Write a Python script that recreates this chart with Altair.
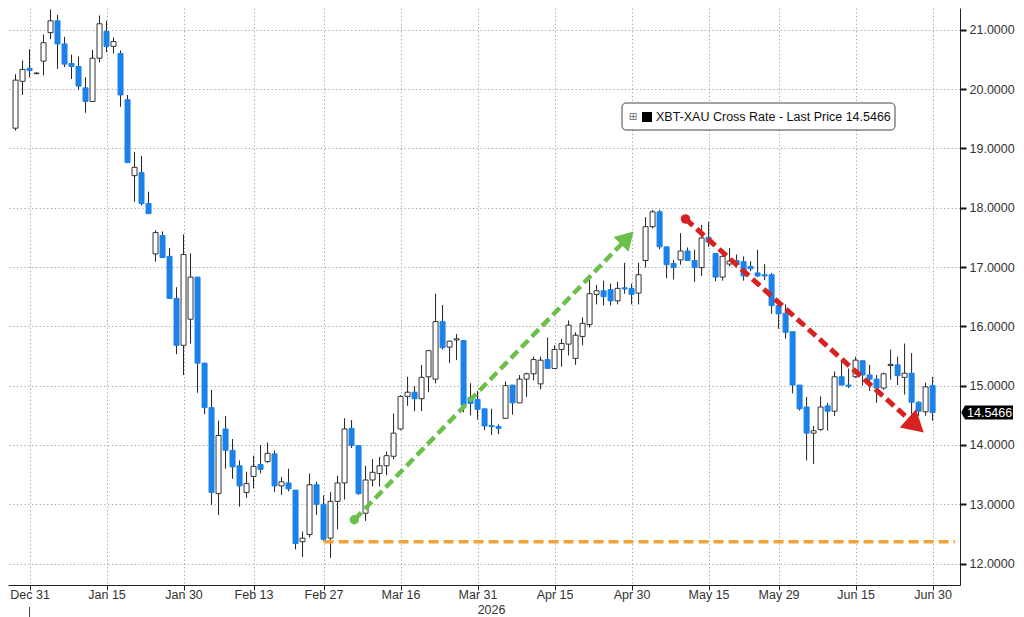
import math
import altair as alt
import pandas as pd

# ---------------- data ----------------
opens = [19.34, 20.13, 20.35, 20.26, 20.47, 20.95, 21.15, 20.76, 20.43, 20.38,
         20.02, 19.79, 20.52, 20.97, 20.72, 20.60, 19.82, 18.54, 18.59, 18.07,
         17.22, 17.53, 17.18, 16.47, 15.68, 16.12, 16.83, 15.38, 14.63, 13.18,
         14.27, 13.91, 13.65, 13.20, 13.47, 13.67, 13.72, 13.85, 13.31, 13.36,
         13.24, 12.37, 12.49, 13.33, 13.00, 12.43, 13.05, 13.36, 14.28, 13.99,
         12.85, 13.41, 13.52, 13.65, 13.81, 14.27, 14.82, 14.89, 14.78, 15.15,
         15.11, 16.08, 15.65, 15.77, 15.76, 14.80, 14.77, 14.61, 14.33, 14.31,
         14.45, 15.01, 14.71, 15.11, 15.20, 15.03, 15.44, 15.29, 15.61, 15.70,
         15.46, 15.83, 16.03, 16.54, 16.60, 16.62, 16.43, 16.65, 16.64, 16.56,
         17.11, 17.68, 17.93, 17.34, 17.06, 17.12, 17.27, 17.11, 16.99, 17.50,
         17.23, 16.83, 17.05, 17.11, 17.09, 17.01, 16.90, 16.87, 16.87, 16.35,
         16.22, 15.91, 15.01, 14.64, 14.20, 14.26, 14.66, 14.57, 15.15, 15.01,
         15.15, 15.42, 15.18, 15.11, 14.96, 15.34, 15.35, 15.14, 15.21, 14.72,
         14.56, 15.00]
highs = [20.25, 20.48, 20.67, 20.28, 20.92, 21.34, 21.25, 20.88, 20.58, 20.55,
         20.20, 20.66, 21.24, 21.15, 20.87, 20.65, 19.90, 18.94, 18.87, 18.27,
         17.62, 17.60, 17.32, 16.66, 17.55, 17.23, 16.83, 15.38, 14.93, 14.41,
         14.49, 14.10, 13.74, 13.55, 13.82, 14.00, 14.04, 13.91, 13.46, 13.60,
         13.24, 12.54, 13.52, 13.38, 13.15, 13.21, 13.48, 14.45, 14.42, 13.99,
         13.65, 13.76, 13.80, 13.89, 14.53, 14.84, 15.15, 14.99, 15.35, 15.59,
         16.55, 16.36, 15.76, 15.87, 15.76, 15.04, 14.91, 14.61, 14.61, 14.35,
         15.07, 15.01, 15.18, 15.22, 15.49, 15.49, 15.81, 15.68, 15.79, 16.10,
         15.90, 16.15, 16.79, 16.70, 16.77, 16.72, 16.75, 17.07, 16.72, 17.07,
         17.84, 17.96, 17.96, 17.34, 17.12, 17.57, 17.33, 17.29, 17.71, 17.76,
         17.23, 17.29, 17.32, 17.21, 17.18, 17.10, 17.29, 17.05, 16.90, 16.37,
         16.37, 15.91, 15.01, 14.81, 14.32, 14.82, 14.71, 15.24, 15.40, 15.29,
         15.49, 15.42, 15.35, 15.18, 15.22, 15.61, 15.49, 15.71, 15.55, 14.74,
         15.05, 15.15]
lows = [19.30, 19.90, 20.20, 20.25, 20.23, 20.84, 20.34, 20.37, 20.17, 19.99,
        19.60, 19.79, 20.45, 20.62, 20.60, 19.70, 18.76, 18.10, 18.04, 17.90,
        17.09, 17.16, 16.46, 15.53, 15.18, 15.71, 14.88, 14.52, 12.99, 12.82,
        13.60, 13.43, 12.96, 13.11, 13.27, 13.52, 13.70, 13.21, 13.16, 13.22,
        12.24, 12.11, 12.44, 12.82, 12.38, 12.10, 12.58, 13.08, 13.95, 13.16,
        12.72, 13.30, 13.30, 13.49, 13.76, 14.25, 14.66, 14.57, 14.57, 14.89,
        15.04, 15.61, 15.38, 15.43, 14.55, 14.50, 14.43, 14.25, 14.17, 14.18,
        14.45, 14.51, 14.71, 14.81, 15.09, 14.94, 15.29, 15.29, 15.32, 15.51,
        15.35, 15.68, 15.98, 16.37, 16.35, 16.35, 16.37, 16.55, 16.37, 16.37,
        16.99, 17.65, 17.30, 16.81, 16.79, 17.04, 17.11, 16.75, 16.85, 17.34,
        16.76, 16.77, 17.01, 16.99, 16.77, 16.93, 16.83, 16.78, 16.21, 15.96,
        15.79, 14.87, 14.58, 13.74, 13.68, 14.24, 14.24, 14.49, 15.01, 14.96,
        15.13, 15.00, 14.91, 14.71, 14.93, 15.10, 15.01, 14.85, 14.52, 14.49,
        14.49, 14.41]
closes = [20.15, 20.33, 20.31, 20.27, 20.78, 21.15, 20.76, 20.42, 20.38, 20.05,
          19.79, 20.52, 21.10, 20.72, 20.80, 19.90, 18.76, 18.68, 18.07, 17.90,
          17.58, 17.16, 16.47, 15.68, 17.21, 16.83, 15.38, 14.63, 13.20, 14.16,
          13.91, 13.63, 13.31, 13.35, 13.64, 13.59, 13.86, 13.31, 13.38, 13.26,
          12.34, 12.43, 13.33, 13.00, 12.41, 13.05, 13.36, 14.27, 13.99, 13.18,
          13.41, 13.54, 13.65, 13.82, 14.20, 14.82, 14.89, 14.78, 15.14, 15.59,
          16.08, 15.64, 15.75, 15.79, 14.67, 14.70, 14.60, 14.32, 14.31, 14.28,
          15.00, 14.71, 15.11, 15.20, 15.44, 15.43, 15.29, 15.61, 15.71, 16.02,
          15.85, 16.05, 16.55, 16.60, 16.50, 16.43, 16.64, 16.63, 16.54, 16.87,
          17.68, 17.93, 17.34, 17.04, 16.99, 17.27, 17.11, 16.99, 17.49, 17.42,
          16.83, 17.18, 17.10, 17.04, 16.85, 16.97, 16.85, 16.85, 16.35, 16.21,
          15.90, 15.01, 14.61, 14.20, 14.24, 14.64, 14.57, 15.15, 15.01, 14.99,
          15.43, 15.18, 15.11, 14.96, 15.20, 15.36, 15.17, 15.21, 14.72, 14.57,
          14.98, 14.5466]

# trading-day index of the labelled dates (index 0 = Dec 29, weekdays only)
tick_idx = [2, 13, 24, 34, 44, 55, 66, 77, 88, 99, 109, 120, 131]
tick_labels = ["Dec 31", "Jan 15", "Jan 30", "Feb 13", "Feb 27", "Mar 16", "Mar 31",
               "Apr 15", "Apr 30", "May 15", "May 29", "Jun 15", "Jun 30"]
y_ticks = [12, 13, 14, 15, 16, 17, 18, 19, 20, 21]

series_name = "XBT-XAU Cross Rate - Last Price 14.5466"

# annotation lines (index, value)
support_i = [44, 134.2]
support_v = [12.37, 12.37]
green_i = [48.4, 87.4]
green_v = [12.74, 17.49]
red_i = [95.7, 128.6]
red_v = [17.81, 14.33]

# ---------------- layout ----------------
W, H = 952, 577
X_DOM = [-0.36, 134.2]
Y_DOM = [11.64, 21.366]
BLUE = "#1a82e8"
GREEN = "#6cc04a"
RED = "#d82121"
ORANGE = "#f2a43a"
FONT = "Liberation Sans"
GRID = "#a0a0a0"

xs = alt.Scale(domain=X_DOM, nice=False, zero=False)
ys = alt.Scale(domain=Y_DOM, nice=False, zero=False)

n = len(closes)
df = pd.DataFrame({"i": list(range(n)), "o": opens, "h": highs, "l": lows, "c": closes})
df["dir"] = ["up" if c >= o else "down" for o, c in zip(opens, closes)]

label_expr = ("[" + ",".join(f"'{t}'" for t in tick_labels) + "][indexof(["
              + ",".join(str(v) for v in tick_idx) + "], datum.value)]")

x_axis = alt.Axis(values=tick_idx, labelExpr=label_expr, grid=True, gridDash=[1.2, 2.6],
                  gridColor=GRID, gridWidth=1, domainColor="#222", tickColor="#222",
                  tickSize=5, labelFont=FONT, labelFontSize=12.5, labelColor="#333",
                  labelPadding=-2, labelFlush=18, labelAngle=0, title=None)
y_axis = alt.Axis(orient="right", values=y_ticks, format=".4f", grid=True, gridDash=[1.2, 2.6],
                  gridColor=GRID, gridWidth=1, domainColor="#222", tickColor="#111",
                  tickSize=6, tickWidth=2, labelFont=FONT, labelFontSize=12.5,
                  labelColor="#333", labelPadding=3, title=None)


def X(field):
    return alt.X(field, scale=xs, axis=x_axis)


def Y(field):
    return alt.Y(field, scale=ys, axis=y_axis)


def ang(i0, v0, i1, v1):
    dx = (i1 - i0) * W / (X_DOM[1] - X_DOM[0])
    dy = -(v1 - v0) * H / (Y_DOM[1] - Y_DOM[0])
    return math.degrees(math.atan2(dx, -dy)) % 360


wicks = alt.Chart(df).mark_rule(color="#222", strokeWidth=1).encode(
    x=X("i:Q"), y=Y("l:Q"), y2="h:Q")

bodies = alt.Chart(df).mark_bar(size=5, strokeWidth=1).encode(
    x=X("i:Q"), y=Y("o:Q"), y2="c:Q",
    fill=alt.Fill("dir:N", scale=alt.Scale(domain=["up", "down"], range=["white", BLUE]), legend=None),
    stroke=alt.Stroke("dir:N", scale=alt.Scale(domain=["up", "down"], range=["#333", BLUE]), legend=None),
)

sup_df = pd.DataFrame({"i": support_i, "v": support_v})
support = alt.Chart(sup_df).mark_line(color=ORANGE, strokeWidth=3.5, strokeDash=[10, 5]).encode(
    x=X("i:Q"), y=Y("v:Q"))


def arrow(ii, vv, color, width, head_size):
    d = pd.DataFrame({"i": ii, "v": vv})
    line = alt.Chart(d).mark_line(color=color, strokeWidth=width, strokeDash=[10, 5]).encode(
        x=X("i:Q"), y=Y("v:Q"))
    dot = alt.Chart(d.iloc[[0]]).mark_circle(color=color, size=90, opacity=1).encode(
        x=X("i:Q"), y=Y("v:Q"))
    head = alt.Chart(d.iloc[[1]]).mark_point(
        shape="triangle-up", filled=True, color=color, opacity=1, size=head_size,
        angle=ang(ii[0], vv[0], ii[1], vv[1])).encode(x=X("i:Q"), y=Y("v:Q"))
    return [line, dot, head]


green = arrow(green_i, green_v, GREEN, 4.5, 440)
red = arrow(red_i, red_v, RED, 5, 600)

one = pd.DataFrame({"a": [0]})
leg_box = alt.Chart(one).mark_rect(fill="white", stroke="#444", strokeWidth=1, cornerRadius=4).encode(
    x=alt.value(614), x2=alt.value(887), y=alt.value(95), y2=alt.value(122))
leg_plus = alt.Chart(one).mark_text(text="⊞", font="DejaVu Sans", fontSize=10, color="#666",
                                    baseline="middle", align="center").encode(
    x=alt.value(625), y=alt.value(109))
leg_sym = alt.Chart(one).mark_square(size=100, color="black", opacity=1).encode(
    x=alt.value(639), y=alt.value(109))
leg_txt = alt.Chart(pd.DataFrame({"t": [series_name]})).mark_text(
    font=FONT, fontSize=12.5, color="#111", align="left", baseline="middle").encode(
    x=alt.value(648), y=alt.value(109), text="t:N")

lp = pd.DataFrame({"v": [closes[-1]], "t": [f"{closes[-1]:.4f}"]})
PATH = "M -1.16 0 L -1 -0.29 L 1 -0.29 L 1 0.29 L -1 0.29 Z"
lp_box = alt.Chart(lp).mark_point(shape=PATH, size=2304, filled=True, color="black", opacity=1).encode(
    x=alt.value(W + 29), y=Y("v:Q"))
lp_txt = alt.Chart(lp).mark_text(font=FONT, fontSize=12.5, color="white", align="left",
                                 baseline="middle").encode(
    x=alt.value(W + 7), y=Y("v:Q"), text="t:N")

yr = alt.Chart(pd.DataFrame({"i": [tick_idx[6]], "t": ["2026"]})).mark_text(
    dx=14, font=FONT, fontSize=12.5, color="#333", align="center", baseline="middle").encode(
    x=X("i:Q"), y=alt.value(H + 25), text="t:N")
yr_tick = alt.Chart(pd.DataFrame({"i": [tick_idx[0]]})).mark_rule(color="#444", strokeWidth=1).encode(
    x=X("i:Q"), y=alt.value(H + 22), y2=alt.value(H + 32))

chart = alt.layer(
    wicks, bodies, support, *green, *red, leg_box, leg_plus, leg_sym, leg_txt,
    lp_box, lp_txt, yr, yr_tick,
).properties(
    width=W, height=H,
    autosize=alt.AutoSizeParams(type="none"),
    padding={"left": 0, "top": 0, "right": 56, "bottom": 32},
    background="white",
).configure_view(stroke=None)

chart.save("out.html", embed_options={"renderer": "svg", "actions": False})
